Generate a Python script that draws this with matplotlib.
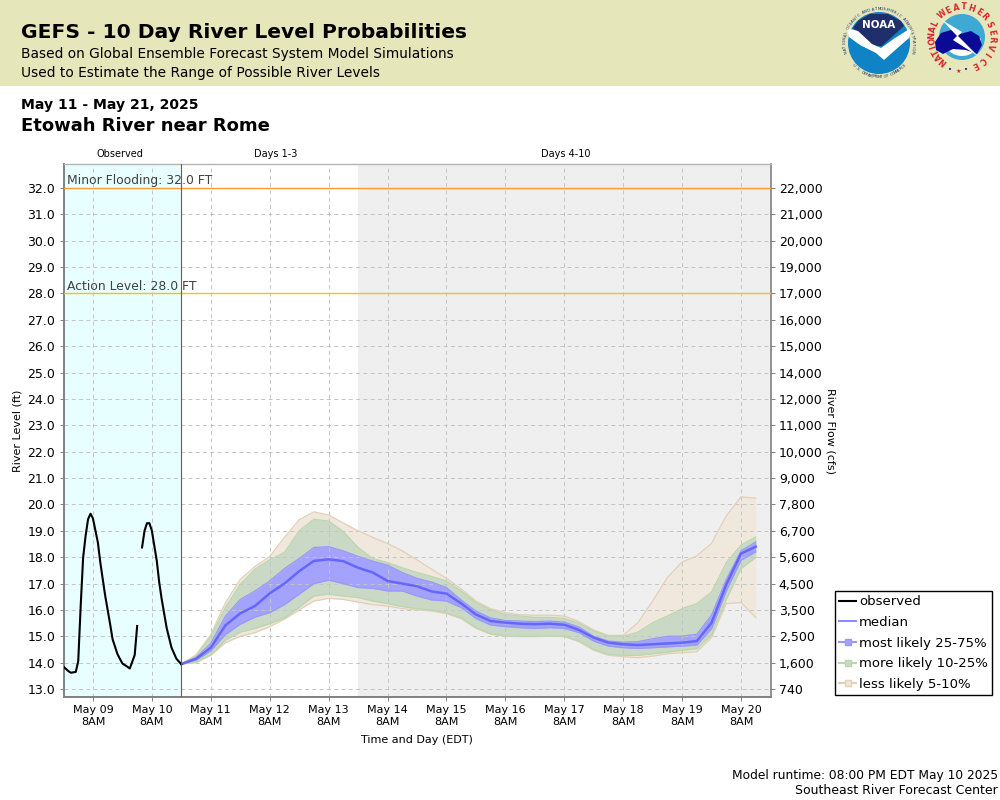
import numpy as np
import pandas as pd
import matplotlib
matplotlib.use("Agg")
import matplotlib.pyplot as plt
from matplotlib.lines import Line2D
from matplotlib.patches import Rectangle, Circle, Wedge, Polygon

plt.rcParams['font.family'] = ['DejaVu Sans']

T0 = pd.Timestamp('2025-05-08 20:00')
NOW = pd.Timestamp('2025-05-10 20:00')
P3 = pd.Timestamp('2025-05-13 20:00')
T1 = pd.Timestamp('2025-05-20 20:00')

obs1_hours = [0,2,3,5,6,7,8,9,10,11,12,14,15,16,17,19,20,22,24,26,27,29,30]
obs1_vals = [13.85,13.68,13.62,13.65,14.06,16.15,17.99,18.81,19.44,19.65,19.47,18.56,17.8,17.16,16.53,15.46,14.89,14.32,13.97,13.85,13.78,14.29,15.39]
obs2_hours = [32,33,34,35,36,37,38,39,40,42,44,46,48]
obs2_vals = [18.37,19.0,19.29,19.29,19.0,18.43,17.86,17.04,16.41,15.33,14.57,14.15,13.94]

p95 = [13.95,14.3,15.07,16.28,17.16,17.65,18.03,18.75,19.42,19.72,19.6,19.3,19.0,18.75,18.52,18.24,17.9,17.54,17.2,16.8,16.34,16.05,15.9,15.82,15.8,15.8,15.77,15.56,15.24,15.04,15.04,15.52,16.34,17.23,17.82,18.05,18.53,19.57,20.29,20.24]
p90 = [13.95,14.25,15.0,16.1,16.97,17.55,17.9,18.18,19.0,19.44,19.37,18.97,18.37,17.95,17.8,17.6,17.42,17.27,17.1,16.72,16.28,16.0,15.83,15.77,15.72,15.72,15.68,15.5,15.2,15.0,15.0,15.16,15.52,15.77,16.05,16.24,16.68,17.8,18.46,18.77]
p75 = [13.95,14.2,14.73,15.77,16.4,16.72,17.1,17.57,17.95,18.37,18.4,18.24,18.03,17.85,17.7,17.42,17.2,17.06,16.85,16.38,15.96,15.7,15.6,15.58,15.56,15.58,15.54,15.35,15.0,14.82,14.78,14.8,14.91,15.0,15.01,15.08,15.81,17.16,18.24,18.58]
p50 = [13.95,14.15,14.57,15.42,15.87,16.15,16.63,17.0,17.47,17.86,17.92,17.85,17.6,17.42,17.1,17.0,16.9,16.7,16.62,16.25,15.83,15.58,15.52,15.48,15.46,15.48,15.44,15.24,14.95,14.76,14.7,14.67,14.7,14.73,14.76,14.82,15.52,16.97,18.14,18.4]
p25 = [13.95,14.1,14.45,15.07,15.46,15.73,15.9,16.2,16.6,17.0,17.13,17.0,16.85,16.82,16.72,16.72,16.53,16.38,16.34,16.09,15.68,15.43,15.37,15.33,15.3,15.33,15.3,15.14,14.82,14.63,14.57,14.54,14.57,14.6,14.63,14.67,15.29,16.72,17.89,18.2]
p10 = [13.95,14.02,14.3,14.86,15.16,15.3,15.48,15.7,16.1,16.53,16.6,16.53,16.47,16.34,16.24,16.13,16.05,16.0,15.9,15.7,15.33,15.1,15.01,15.0,15.0,15.01,15.0,14.82,14.5,14.32,14.28,14.28,14.34,14.4,14.47,14.53,15.05,16.4,17.57,17.99]
p05 = [13.95,14.0,14.28,14.76,15.0,15.14,15.37,15.65,16.0,16.34,16.44,16.4,16.3,16.2,16.15,16.05,16.0,15.96,15.86,15.67,15.3,15.08,15.0,14.99,14.99,15.0,14.99,14.8,14.47,14.28,14.23,14.19,14.25,14.34,14.38,14.42,14.95,16.24,16.28,15.71]

level_ticks = [13,14,15,16,17,18,19,20,21,22,23,24,25,26,27,28,29,30,31,32]
flow_labels = ['740','1,600','2,500','3,500','4,500','5,600','6,700','7,800','9,000','10,000','11,000','12,000','14,000','15,000','16,000','17,000','19,000','20,000','21,000','22,000']

day_ticks = pd.date_range('2025-05-09 08:00', periods=12, freq='D')
day_labels = [d.strftime('%b %d') + '\n8AM' for d in day_ticks]

H = lambda h: T0 + pd.to_timedelta(h, unit='h')
fx = pd.date_range(NOW, periods=len(p50), freq='6h')

W, Hh = 1000, 800
fig = plt.figure(figsize=(10, 8), dpi=100, facecolor='white')

ax = fig.add_axes([63.5/W, 1-697/Hh, 707/W, 533/Hh])
ax.set_xlim(T0, T1)
ax.set_ylim(12.70, 32.91)
ax.axvspan(T0, NOW, color='#e8ffff', lw=0, zorder=0.2)
ax.axvspan(P3, T1, color='#efefef', lw=0, zorder=0.2)

TAN_F, TAN_E = '#f0e8dd', '#e3cfb8'
GRN_F, GRN_E = '#c9d9c5', '#b9d7ac'
BLU_F, BLU_E = '#a3a3ff', '#9a9af5'
MED = '#6666ff'

ax.fill_between(fx, p05, p95, color=TAN_F, lw=0, zorder=1)
ax.fill_between(fx, p10, p90, color=GRN_F, lw=0, zorder=1.1)
ax.fill_between(fx, p25, p75, color=BLU_F, lw=0, zorder=1.2)
ax.set_xticks(day_ticks)
ax.set_xticklabels(day_labels, fontsize=8, linespacing=1.15)
ax.set_yticks(level_ticks)
ax.set_yticklabels([f'{v:.1f}' for v in level_ticks], fontsize=9)
ax.tick_params(axis='both', length=3, width=0.7, color='#808080', pad=3)
ax.grid(True, color='#c4c4c4', ls=(0, (4, 3.5)), lw=0.7)

for s, c, lo in ((p95, TAN_E, p05), (p90, GRN_E, p10), (p75, BLU_E, p25)):
    ax.plot(fx, s, color=c, lw=0.9, zorder=2)
    ax.plot(fx, lo, color=c, lw=0.9, zorder=2)
ax.plot(fx, p50, color=MED, lw=1.8, zorder=3)
ax.plot(H(np.array(obs1_hours)), obs1_vals, color='black', lw=1.5, zorder=4)
ax.plot(H(np.array(obs2_hours)), obs2_vals, color='black', lw=1.5, zorder=4)

ax.axvline(NOW, color='#c83232', lw=0.8, zorder=5)
ax.axhline(32, color='#ff9a30', lw=1.0, zorder=3)
ax.axhline(28, color='#f5c400', lw=1.0, zorder=3)
ax.text(T0 + pd.Timedelta(hours=1.6), 32.02, 'Minor Flooding: 32.0 FT', fontsize=8.95, color='#404040', va='bottom', zorder=6)
ax.text(T0 + pd.Timedelta(hours=1.6), 28.02, 'Action Level: 28.0 FT', fontsize=8.95, color='#404040', va='bottom', zorder=6)

for side, col, lw in (('left', '#808080', 1.4), ('bottom', '#808080', 1.4), ('right', '#808080', 1.2), ('top', '#b4b4b4', 1.0)):
    ax.spines[side].set_color(col)
    ax.spines[side].set_linewidth(lw)

ax2 = ax.twinx()
ax2.set_ylim(ax.get_ylim())
ax2.set_yticks(level_ticks)
ax2.set_yticklabels(flow_labels, fontsize=9)
ax2.tick_params(axis='y', length=3, width=0.7, color='#808080', pad=3)
for s in ax2.spines.values():
    s.set_visible(False)

pg = fig.add_axes([0, 0, 1, 1], zorder=-1)
pg.set_xlim(0, W); pg.set_ylim(Hh, 0); pg.axis('off')
pg.add_patch(Rectangle((0, 0), W, 86, color='#e5e6b9', lw=0))

top = fig.add_axes([0, 0, 1, 1], zorder=10)
top.set_xlim(0, W); top.set_ylim(Hh, 0); top.axis('off'); top.patch.set_alpha(0)

def t(x, y, s, **k):
    k.setdefault('va', 'center')
    top.text(x, y, s, **k)

t(21, 33, 'GEFS - 10 Day River Level Probabilities', fontsize=14.55, fontweight='bold')
t(21, 54, 'Based on Global Ensemble Forecast System Model Simulations', fontsize=9.88)
t(21, 73, 'Used to Estimate the Range of Possible River Levels', fontsize=9.88)
t(21, 105, 'May 11 - May 21, 2025', fontsize=10.1, fontweight='bold')
t(21, 126, 'Etowah River near Rome', fontsize=13, fontweight='bold')
t(120, 154, 'Observed', fontsize=7, ha='center')
t(276, 154, 'Days 1-3', fontsize=7, ha='center')
t(566, 154, 'Days 4-10', fontsize=7, ha='center')
t(417, 740, 'Time and Day (EDT)', fontsize=8, ha='center')
t(18, 431, 'River Level (ft)', fontsize=8, rotation=90, ha='center')
t(831, 431, 'River Flow (cfs)', fontsize=8, rotation=-90, ha='center')
t(998, 775, 'Model runtime: 08:00 PM EDT May 10 2025', fontsize=8.8, ha='right')
t(998, 791, 'Southeast River Forecast Center', fontsize=9, ha='right')

def ring(cx, cy, r, s, a0, a1, **k):
    angs = np.linspace(a0, a1, len(s))
    for ch, a in zip(s, angs):
        x = cx + r*np.cos(np.radians(a))
        y = cy - r*np.sin(np.radians(a))
        rot = a-90 if a0 > a1 else a+90
        top.text(x, y, ch, rotation=rot, rotation_mode='anchor', ha='center', va='center', **k)

# NOAA emblem
top.add_patch(Circle((879, 43), 31, fc='#0f83c6', ec='none'))
top.add_patch(Polygon([[858, 21], [870, 14], [888, 14], [901, 21], [904, 26], [882, 46], [872, 46], [853, 28]], fc='#1f2f6b', ec='none'))
top.add_patch(Polygon([[847, 28], [858, 31], [872, 44], [881, 48], [895, 38], [911, 28], [909, 38], [893, 52], [884, 60], [876, 53], [860, 45], [849, 37]], fc='white', ec='none'))
t(879, 25, 'NOAA', fontsize=7.5, color='white', fontweight='bold', ha='center')
ring(879, 43, 34, 'NATIONAL OCEANIC AND ATMOSPHERIC ADMINISTRATION', 195, -15, fontsize=2.8, color='#1f2f6b')
ring(879, 43, 34, 'U.S. DEPARTMENT OF COMMERCE', 222, 318, fontsize=2.8, color='#1f2f6b')

# NWS emblem (y axis is inverted here, so the wedge angles read downward)
top.add_patch(Circle((962, 37), 23, fc='#3fa9d6', ec='none'))
top.add_patch(Wedge((962, 37), 19, 5, 175, fc='white', ec='none'))
top.add_patch(Polygon([[935, 42], [941, 33], [951, 30], [960, 34], [971, 31], [979, 36], [982, 45], [977, 54], [966, 50], [953, 49], [943, 54], [936, 50]], fc='#0a0a96', ec='none'))
top.add_patch(Polygon([[942, 20], [962, 32], [958, 36], [978, 56], [953, 40], [957, 36]], fc='white', ec='none'))
ring(962, 37, 30, 'NATIONAL', 232, 154, fontsize=5.8, color='#d8232a', fontweight='bold')
ring(962, 37, 30, 'WEATHER', 131, 42, fontsize=5.8, color='#d8232a', fontweight='bold')
ring(962, 37, 30, 'SERVICE', 25, -64, fontsize=5.8, color='#d8232a', fontweight='bold')
t(958, 71, '★', fontsize=4.5, color='#d8232a', ha='center')
t(950, 70, '•', fontsize=5, color='#0a0a96', ha='center')
t(966, 70, '•', fontsize=5, color='#0a0a96', ha='center')

handles = [
    Line2D([], [], color='black', lw=1.5),
    Line2D([], [], color=MED, lw=1.5, alpha=.75),
    Line2D([], [], color=BLU_E, lw=1.5, marker='s', ms=5, mfc=BLU_F, mec=BLU_E),
    Line2D([], [], color=GRN_E, lw=1.5, marker='s', ms=5, mfc=GRN_F, mec=GRN_E),
    Line2D([], [], color=TAN_E, lw=1.5, marker='s', ms=5, mfc=TAN_F, mec=TAN_E),
]
names = ['observed', 'median', 'most likely 25-75%', 'more likely 10-25%', 'less likely 5-10%']
leg = fig.legend(handles, names, loc='lower left', bbox_to_anchor=(835/W, 1-695/Hh), bbox_transform=fig.transFigure,
                 fontsize=9.5, frameon=True, fancybox=False, edgecolor='black', framealpha=1,
                 borderaxespad=0, borderpad=0.3, handlelength=1.3, handletextpad=0.2, labelspacing=0.585)
leg.get_frame().set_linewidth(1.0)
leg.set_zorder(20)

fig.savefig('out.png', dpi=100)
